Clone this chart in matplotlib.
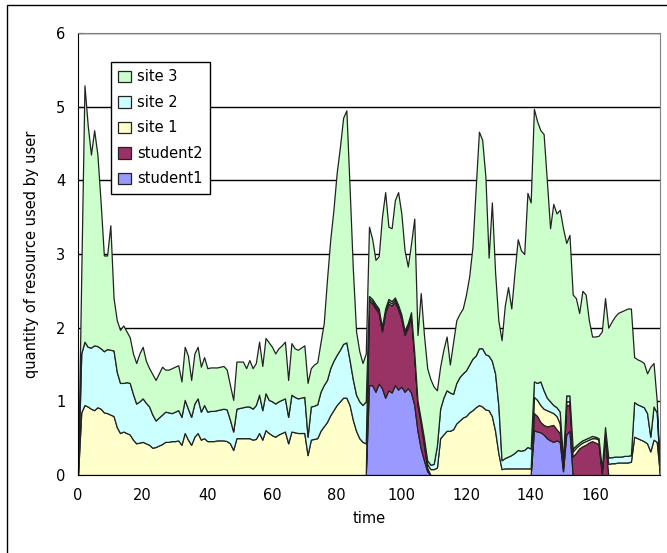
import numpy as np
import matplotlib.pyplot as plt
from matplotlib.patches import Rectangle

plt.rcParams['font.family'] = ['DejaVu Sans']

time = np.arange(0, 181)

# stacked boundaries (cumulative height of each layer)
top_student1 = ([0] * 90 +
                [1.22, 1.22, 1.13, 1.24, 1.18, 1.05, 1.15, 1.12, 1.22, 1.16,
                 1.20, 1.13, 1.18, 1.12, 0.95, 0.60, 0.36, 0.20, 0.05] +
                [0] * 32 +
                [0.61, 0.59, 0.58, 0.55, 0.50, 0.47, 0.45, 0.47, 0.45, 0.05,
                 0.55, 0.60] +
                [0] * 28)

top_student2 = ([0] * 90 +
                [2.37, 2.33, 2.26, 2.20, 1.95, 2.20, 2.33, 2.30, 2.35, 2.25,
                 2.12, 1.90, 2.00, 2.15, 1.60, 0.95, 0.70, 0.40, 0.10] +
                [0] * 32 +
                [0.84, 0.80, 0.72, 0.68, 0.66, 0.67, 0.68, 0.62, 0.57, 0.10,
                 0.95, 0.95, 0.25, 0.30, 0.36, 0.39, 0.41, 0.44, 0.46, 0.44,
                 0.42, 0.02, 0.50] +
                [0] * 17)

top_site1 = [0, 0.85, 0.95, 0.93, 0.90, 0.88, 0.92, 0.90, 0.85, 0.84,
             0.82, 0.80, 0.65, 0.57, 0.59, 0.57, 0.55, 0.48, 0.43, 0.44,
             0.45, 0.43, 0.41, 0.37, 0.38, 0.40, 0.42, 0.45, 0.45, 0.46,
             0.46, 0.47, 0.41, 0.57, 0.48, 0.41, 0.52, 0.57, 0.48, 0.50,
             0.46, 0.46, 0.46, 0.47, 0.47, 0.47, 0.46, 0.43, 0.34, 0.50,
             0.50, 0.50, 0.50, 0.50, 0.48, 0.49, 0.57, 0.48, 0.61, 0.57,
             0.54, 0.52, 0.55, 0.57, 0.59, 0.43, 0.59, 0.58, 0.57, 0.57,
             0.57, 0.27, 0.48, 0.49, 0.50, 0.60, 0.66, 0.72, 0.81, 0.88,
             0.95, 1.00, 1.05, 1.05, 0.95, 0.75, 0.60, 0.50, 0.45, 0.43,
             2.40, 2.36, 2.29, 2.23, 1.98, 2.23, 2.36, 2.33, 2.38, 2.28,
             2.15, 1.93, 2.03, 2.18, 1.63, 0.98, 0.73, 0.45, 0.15, 0.08,
             0.08, 0.10, 0.50, 0.55, 0.60, 0.60, 0.62, 0.70, 0.74, 0.78,
             0.80, 0.85, 0.88, 0.92, 0.95, 0.93, 0.89, 0.88, 0.80, 0.60,
             0.30, 0.08, 0.09, 0.09, 0.09, 0.09, 0.09, 0.09, 0.09, 0.09,
             0.09, 1.06, 1.02, 0.95, 0.90, 0.88, 0.86, 0.84, 0.80, 0.70,
             0.15, 1.00, 1.00, 0.32, 0.37, 0.41, 0.44, 0.46, 0.48, 0.50,
             0.50, 0.48, 0.05, 0.60, 0.15, 0.16, 0.16, 0.17, 0.17, 0.17,
             0.17, 0.18, 0.52, 0.50, 0.48, 0.46, 0.43, 0.32, 0.48, 0.45, 0]

top_site2 = [0, 1.65, 1.81, 1.74, 1.73, 1.76, 1.75, 1.72, 1.68, 1.71,
             1.70, 1.69, 1.40, 1.25, 1.25, 1.26, 1.25, 1.10, 0.97, 1.00,
             1.04, 0.98, 0.93, 0.82, 0.74, 0.78, 0.82, 0.86, 0.85, 0.84,
             0.86, 0.88, 0.79, 1.02, 0.90, 0.79, 0.97, 1.04, 0.86, 0.95,
             0.86, 0.87, 0.87, 0.88, 0.89, 0.90, 0.89, 0.75, 0.59, 0.90,
             0.91, 0.92, 0.93, 0.93, 0.90, 0.95, 1.09, 0.88, 1.11, 1.02,
             1.00, 0.97, 1.00, 1.02, 1.04, 0.79, 1.09, 1.06, 1.04, 1.05,
             1.06, 0.52, 0.93, 0.94, 0.96, 1.13, 1.22, 1.29, 1.45, 1.55,
             1.63, 1.70, 1.78, 1.80, 1.56, 1.30, 1.09, 1.00, 0.95, 1.00,
             2.43, 2.39, 2.32, 2.26, 2.01, 2.26, 2.39, 2.36, 2.41, 2.31,
             2.18, 1.96, 2.06, 2.21, 1.66, 1.01, 0.76, 0.50, 0.20, 0.14,
             0.15, 0.40, 0.90, 1.05, 1.15, 1.12, 1.10, 1.25, 1.33, 1.38,
             1.42, 1.50, 1.58, 1.62, 1.72, 1.72, 1.64, 1.62, 1.55, 1.38,
             0.95, 0.20, 0.23, 0.25, 0.27, 0.30, 0.34, 0.33, 0.34, 0.38,
             0.36, 1.27, 1.25, 1.27, 1.15, 1.05, 1.00, 0.95, 0.92, 0.86,
             0.20, 1.08, 1.08, 0.36, 0.40, 0.44, 0.47, 0.49, 0.51, 0.53,
             0.52, 0.50, 0.08, 0.65, 0.24, 0.24, 0.25, 0.25, 0.25, 0.26,
             0.26, 0.27, 0.99, 0.96, 0.94, 0.92, 0.84, 0.52, 0.93, 0.85, 0]

top_site3 = [0, 2.70, 5.29, 4.75, 4.35, 4.68, 4.35, 3.70, 2.98, 2.98,
             3.39, 2.40, 2.10, 1.97, 2.03, 1.95, 1.87, 1.65, 1.52, 1.65,
             1.74, 1.55, 1.45, 1.37, 1.29, 1.38, 1.47, 1.43, 1.43, 1.45,
             1.47, 1.49, 1.27, 1.74, 1.62, 1.29, 1.65, 1.74, 1.47, 1.60,
             1.45, 1.46, 1.46, 1.46, 1.47, 1.48, 1.43, 1.22, 1.02, 1.54,
             1.54, 1.54, 1.45, 1.56, 1.45, 1.52, 1.81, 1.48, 1.86, 1.80,
             1.74, 1.65, 1.72, 1.76, 1.81, 1.29, 1.79, 1.72, 1.70, 1.73,
             1.76, 1.25, 1.45, 1.50, 1.53, 1.80, 2.06, 2.65, 3.19, 3.60,
             4.10, 4.45, 4.85, 4.95, 3.90, 2.80, 1.95, 1.68, 1.52, 1.65,
             3.37, 3.20, 2.92, 2.97, 3.50, 3.84, 3.37, 3.35, 3.73, 3.84,
             3.55, 3.05, 2.83, 3.14, 3.48, 1.90, 2.47, 1.90, 1.45, 1.30,
             1.20, 1.15, 1.47, 1.70, 1.88, 1.50, 1.80, 2.10, 2.19, 2.26,
             2.45, 2.70, 3.10, 3.90, 4.66, 4.55, 4.05, 2.95, 3.70, 2.75,
             2.10, 1.83, 2.30, 2.55, 2.26, 2.75, 3.20, 3.05, 3.00, 3.83,
             3.70, 4.97, 4.80, 4.68, 4.63, 4.00, 3.35, 3.68, 3.55, 3.60,
             3.35, 3.15, 3.26, 2.45, 2.40, 2.20, 2.50, 2.45, 2.10, 1.88,
             1.88, 1.89, 1.95, 2.40, 2.00, 2.08, 2.15, 2.20, 2.22, 2.24,
             2.26, 2.26, 1.60, 1.57, 1.55, 1.52, 1.38, 1.47, 1.52, 1.00, 0]

levels = np.array([top_student1, top_student2, top_site1, top_site2, top_site3])
layers = np.diff(np.vstack([np.zeros(len(time)), levels]), axis=0)

names = ["student1", "student2", "site 1", "site 2", "site 3"]
colors = ["#9999FF", "#993366", "#FFFFCC", "#CCFFFF", "#CCFFCC"]

fig = plt.figure(figsize=(6.67, 5.53), dpi=100)
ax = fig.add_axes([78 / 667, 78 / 553, 582 / 667, 442 / 553])

polys = ax.stackplot(time, layers, colors=colors, labels=names,
                     edgecolor="#222222", linewidth=0.9)

ax.set_xlim(0, 180)
ax.set_ylim(0, 6)
ax.set_xticks(range(0, 161, 20))
ax.set_yticks(range(0, 7))
ax.tick_params(direction="in", length=4, labelsize=10.5, pad=9, color="black")
ax.yaxis.grid(True, color="black", linewidth=1)
ax.set_axisbelow(True)
for s in ["top", "right"]:
    ax.spines[s].set_color("#808080")
for s in ["left", "bottom"]:
    ax.spines[s].set_color("black")

ax.set_xlabel("time", fontsize=10.5, labelpad=6)
ax.set_ylabel("quantity of resource used by user", fontsize=10.5, labelpad=12)

h, l = ax.get_legend_handles_labels()
leg = ax.legend(h[::-1], l[::-1], loc="upper left",
                bbox_to_anchor=(0.057, 0.934), fontsize=10.5,
                fancybox=False, framealpha=1, edgecolor="black",
                handlelength=0.85, handleheight=0.85, handletextpad=0.4,
                borderpad=0.5, labelspacing=0.72, borderaxespad=0)
leg.get_frame().set_linewidth(1)

# outer chart frame
fig.patches.append(Rectangle((7 / 667, -0.1), 1.2, 1.1 - 5 / 553,
                             transform=fig.transFigure, fill=False,
                             edgecolor="black", linewidth=1))

fig.savefig("out.png", dpi=100)
